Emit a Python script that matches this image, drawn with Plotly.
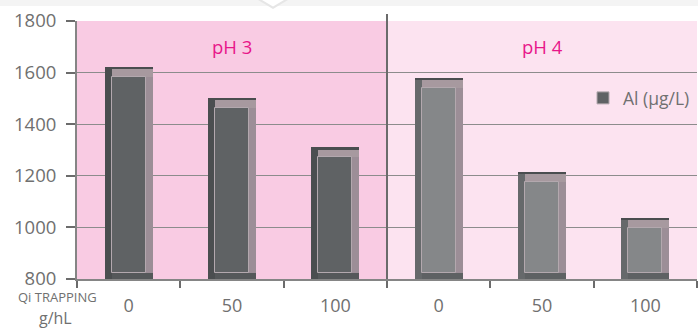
import plotly.graph_objects as go

# ---- data ----
doses = ["0", "50", "100"]
ph_groups = ["pH 3", "pH 4"]
al_ph3 = [1620, 1500, 1310]
al_ph4 = [1580, 1215, 1035]
series_name = "Al (µg/L)"
x_title_top = "Qi TRAPPING"
x_title_bottom = "g/hL"

# ---- layout geometry ----
W, H = 698, 331
ML, MR, MT, MB = 77, 1, 21, 52
PW, PH = W - ML - MR, H - MT - MB
Y0, Y1 = 800, 1800
NCAT = len(doses) * len(ph_groups)

ux = NCAT / PW            # x units per pixel
uy = (Y1 - Y0) / PH       # y units per pixel

BAR_W = 48 * ux
SIDE = 7 * ux
TOP_LINE = 2 * uy
TOP_BEV = 8 * uy
BOT_BEV = 6 * uy

FONT = "Open Sans"
TXT = "#707070"

faces = ["#5f6264", "#858789"]
lefts = ["#4b4e50", "#66696b"]
bottoms = ["#55585a", "#5e6163"]
panel_bg = ["#f9cbe3", "#fce3f0"]


def py(pixel_y):
    """Pixel row in the page -> paper y."""
    return (MT + PH - pixel_y) / PH


def px(pixel_x):
    """Pixel column in the page -> paper x."""
    return (pixel_x - ML) / PW


fig = go.Figure()

for g, vals in enumerate([al_ph3, al_ph4]):
    xs = [g * len(doses) + i + 0.5 for i in range(len(doses))]
    heights = [v - Y0 for v in vals]
    common = dict(x=xs, showlegend=False, hoverinfo="skip")
    # outer frame (right bevel colour)
    fig.add_bar(**common, y=heights, base=Y0, width=BAR_W, offset=-BAR_W / 2,
                marker=dict(color="#9c8e97", line=dict(width=0)))
    # top bevel
    fig.add_bar(**common, y=[TOP_BEV] * 3, base=[v - TOP_LINE - TOP_BEV for v in vals],
                width=BAR_W, offset=-BAR_W / 2,
                marker=dict(color="#a7999f", line=dict(width=0)))
    # left shaded side
    fig.add_bar(**common, y=heights, base=Y0, width=SIDE, offset=-BAR_W / 2,
                marker=dict(color=lefts[g], line=dict(width=0)))
    # bottom bevel
    fig.add_bar(**common, y=[BOT_BEV] * 3, base=Y0, width=BAR_W - SIDE,
                offset=-BAR_W / 2 + SIDE,
                marker=dict(color=bottoms[g], line=dict(width=0)))
    # dark top edge
    fig.add_bar(**common, y=[TOP_LINE] * 3, base=[v - TOP_LINE for v in vals],
                width=BAR_W, offset=-BAR_W / 2,
                marker=dict(color="#4a4d4f", line=dict(width=0)))
    # bar face
    fig.add_bar(x=xs, y=[h - BOT_BEV - TOP_LINE - TOP_BEV for h in heights],
                base=Y0 + BOT_BEV, width=BAR_W - 2 * SIDE, offset=-BAR_W / 2 + SIDE,
                marker=dict(color=faces[g], line=dict(color="#b3a8ae", width=1)),
                name=series_name, showlegend=(g == 0), hoverinfo="skip")

# panel backgrounds and group labels
for g in range(len(ph_groups)):
    fig.add_shape(type="rect", xref="x", yref="paper",
                  x0=g * len(doses), x1=(g + 1) * len(doses), y0=0, y1=1,
                  fillcolor=panel_bg[g], line=dict(width=0), layer="below")
    fig.add_annotation(x=g * len(doses) + 1.5, y=py(47), xref="x", yref="paper",
                       text=ph_groups[g], showarrow=False, xanchor="center", yanchor="middle",
                       font=dict(family=FONT, size=18.5, color="#e8168a"))

# group separator
fig.add_shape(type="line", xref="x", yref="paper", x0=3, x1=3, y0=0, y1=py(14),
              line=dict(color="#6b6b6b", width=2))

# faint header band with a pointer notch
fig.add_shape(type="rect", xref="paper", yref="paper", x0=px(0), x1=px(W),
              y0=py(6), y1=py(0), fillcolor="#f4f4f4", line=dict(width=0))
fig.add_shape(type="path", xref="paper", yref="paper",
              path=f"M {px(258)},{py(0)} L {px(288)},{py(0)} L {px(273)},{py(9)} Z",
              fillcolor="#e6e6e6", line=dict(width=0))
fig.add_shape(type="path", xref="paper", yref="paper",
              path=f"M {px(262)},{py(0)} L {px(284)},{py(0)} L {px(273)},{py(6.5)} Z",
              fillcolor="#ffffff", line=dict(width=0))

# axis title on two lines
fig.add_annotation(x=px(57), y=py(297), xref="paper", yref="paper",
                   text=x_title_top, showarrow=False, xanchor="center", yanchor="middle",
                   borderpad=0, font=dict(family=FONT, size=13, color=TXT))
fig.add_annotation(x=px(55), y=py(318), xref="paper", yref="paper",
                   text=x_title_bottom, showarrow=False, xanchor="center", yanchor="middle",
                   borderpad=0, font=dict(family=FONT, size=16, color=TXT))

fig.update_layout(
    width=W, height=H, margin=dict(l=ML, r=MR, t=MT, b=MB),
    barmode="overlay", bargap=0,
    paper_bgcolor="white", plot_bgcolor="white",
    font=dict(family=FONT, color=TXT),
    legend=dict(x=px(583), y=py(98), xanchor="left", yanchor="middle",
                bgcolor="rgba(0,0,0,0)", font=dict(family=FONT, size=17.5, color=TXT),
                itemwidth=30),
    xaxis=dict(range=[0, NCAT], tickvals=[i + 0.5 for i in range(NCAT)],
               ticktext=doses * len(ph_groups), ticks="", showgrid=False,
               showline=True, linecolor="#858585", linewidth=2, zeroline=False,
               tickfont=dict(family=FONT, size=18, color=TXT), ticklabelstandoff=9,
               minor=dict(tickvals=list(range(NCAT + 1)), ticks="outside", ticklen=7,
                          tickcolor="#6b6b6b", tickwidth=2, showgrid=False)),
    yaxis=dict(range=[Y0, Y1], dtick=200, showgrid=True, gridcolor="#8c8c8c", gridwidth=1,
               showline=True, linecolor="#858585", linewidth=2, zeroline=False,
               ticks="outside", ticklen=9, tickcolor="#6b6b6b", tickwidth=2,
               tickfont=dict(family=FONT, size=18.5, color=TXT), ticklabelstandoff=6),
)

fig.write_html("out.html")
